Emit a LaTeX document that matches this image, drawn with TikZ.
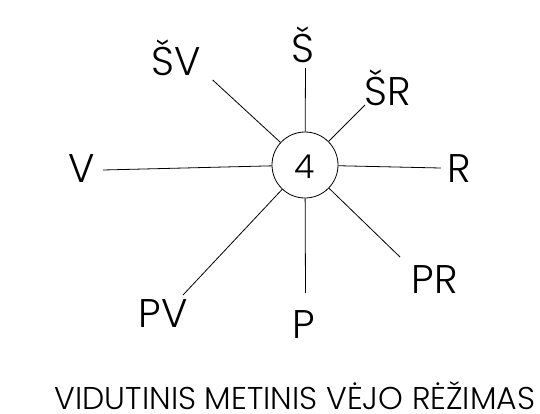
\documentclass[tikz,border=0pt]{standalone}
\usepackage{fontspec}
\setmainfont{Poppins}[UprightFont=* Light]
\begin{document}
\begin{tikzpicture}[x=1pt,y=-1pt,
  lbl/.style={font=\fontsize{40}{44}\selectfont, inner sep=0pt, anchor=base},
  ray/.style={line width=0.8pt, black}]
\useasboundingbox (0,0) rectangle (540,413);
\node[circle, draw, line width=0.8pt, minimum size=66pt, inner sep=0pt] (c) at (305,165) {};
\node[font=\fontsize{33}{38}\selectfont, inner sep=0pt, anchor=base] (num) at (305,178) {4};
\coordinate (eN) at (305.5,68);
\coordinate (eNE) at (365,105);
\coordinate (eE) at (441,168);
\coordinate (eSE) at (400,257);
\coordinate (eS) at (305.5,293);
\coordinate (eSW) at (183,295);
\coordinate (eW) at (103,170);
\coordinate (eNW) at (212.7,80);
\foreach \e in {eN,eNE,eE,eSE,eS,eSW,eW,eNW} \draw[ray] (c) -- (\e);
\node[lbl] (lN) at (303,62) {Š};
\node[lbl] (lNE) at (388,105) {ŠR};
\node[lbl] (lE) at (459,182) {R};
\node[lbl] (lSE) at (435,293) {PR};
\node[lbl] (lS) at (304,338) {P};
\node[lbl] (lSW) at (163,327) {PV};
\node[lbl] (lW) at (82,182) {V};
\node[lbl] (lNW) at (176,75) {ŠV};
\node[font=\fontsize{31.5}{35}\selectfont, inner sep=0pt, anchor=base] (title) at (295,409) {VIDUTINIS METINIS VĖJO RĖŽIMAS};
\end{tikzpicture}
\end{document}
